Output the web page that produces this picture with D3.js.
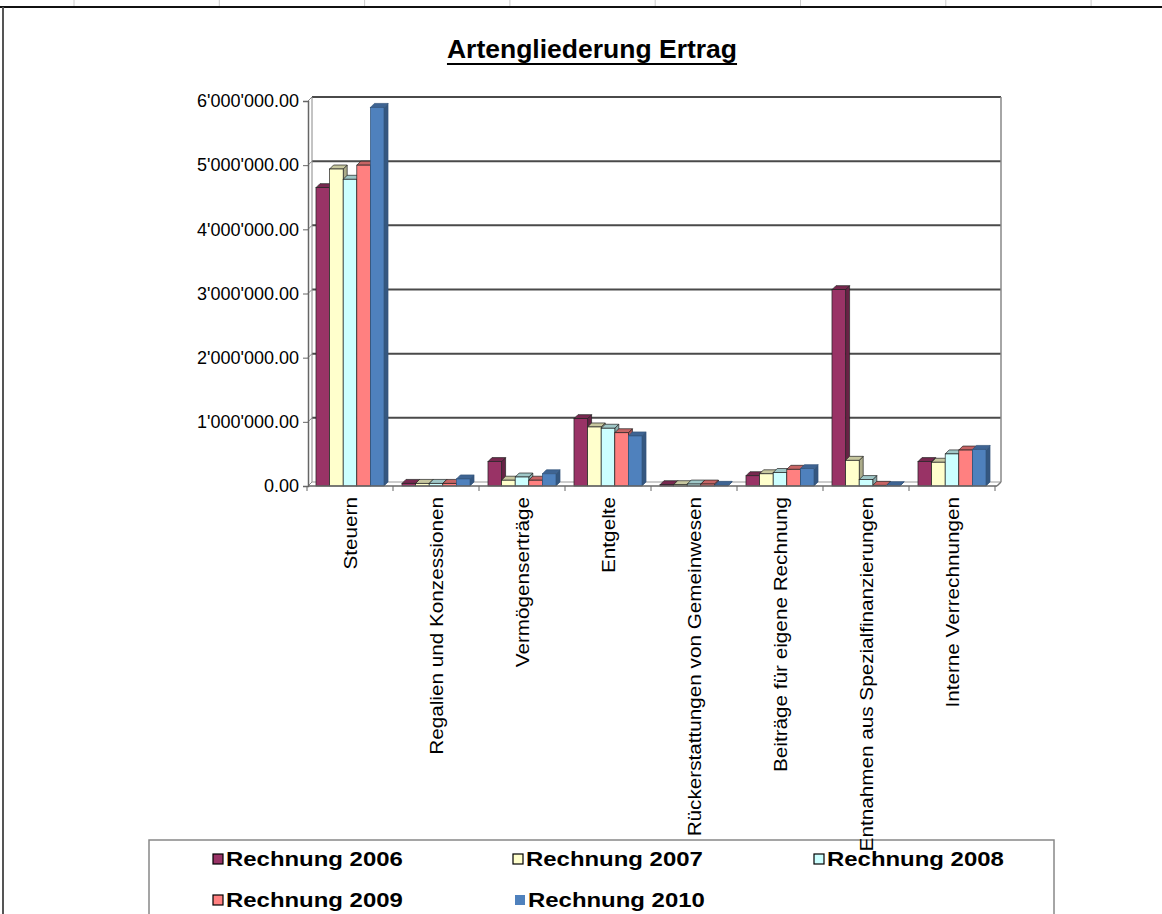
<!DOCTYPE html>
<html><head><meta charset="utf-8">
<script src="https://cdn.jsdelivr.net/npm/d3@7"></script>
<style>html,body{margin:0;padding:0;background:#fff;}svg{display:block;}</style>
</head><body>
<svg id="chart" width="1162" height="914"></svg>
<script>
const title = "Artengliederung Ertrag";
const categories = ["Steuern","Regalien und Konzessionen","Vermögenserträge","Entgelte","Rückerstattungen von Gemeinwesen","Beiträge für eigene Rechnung","Entnahmen aus Spezialfinanzierungen","Interne Verrechnungen"];
const seriesNames = ["Rechnung 2006","Rechnung 2007","Rechnung 2008","Rechnung 2009","Rechnung 2010"];
const seriesColors = ["#993366","#FFFFCC","#CCFFFF","#FF8080","#4F81BD"];
const r2006 = [4650000, 40000, 380000, 1050000, 20000, 160000, 3060000, 380000];
const r2007 = [4940000, 40000,  90000,  920000, 20000, 190000,  400000, 370000];
const r2008 = [4780000, 40000, 140000,  900000, 30000, 210000,  100000, 500000];
const r2009 = [5000000, 40000,  90000,  830000, 30000, 260000,   10000, 560000];
const r2010 = [5900000, 110000, 190000, 780000, 10000, 270000,    5000, 570000];
const seriesValues = [r2006, r2007, r2008, r2009, r2010];
const yTicks = [0,1000000,2000000,3000000,4000000,5000000,6000000];

const svg = d3.select("#chart");
const font = "'Liberation Sans', Arial, sans-serif";

// frame
const tickXs = d3.range(74, 1162, 145.3);
svg.selectAll("line.cell").data(tickXs).enter().append("line")
  .attr("x1", d => d).attr("x2", d => d).attr("y1", 0).attr("y2", 7)
  .attr("stroke", "#ccc").attr("stroke-width", 1);
svg.append("line").attr("x1", 0).attr("x2", 1162).attr("y1", 7).attr("y2", 7)
  .attr("stroke", "#111").attr("stroke-width", 2);
svg.append("line").attr("x1", 3).attr("x2", 3).attr("y1", 7).attr("y2", 914)
  .attr("stroke", "#555").attr("stroke-width", 2);

// title
const t = svg.append("text").attr("x", 592).attr("y", 58)
  .attr("text-anchor", "middle").attr("font-family", font)
  .attr("font-weight", "bold").attr("font-size", 26.5).attr("fill", "#000").text(title);
const tw = t.node().getComputedTextLength();
svg.append("line").attr("x1", 592 - tw/2).attr("x2", 592 + tw/2)
  .attr("y1", 64).attr("y2", 64).attr("stroke", "#000").attr("stroke-width", 2);

// scales
const y = d3.scaleLinear().domain([0, 6000000]).range([486, 101]);
const x0 = d3.scaleBand().domain(categories).range([307, 995]).paddingInner(0).paddingOuter(0);
const x1 = d3.scaleBand().domain(seriesNames).range([0, x0.bandwidth()]).paddingInner(0).paddingOuter(0.66);
const dx = 4, dy = 4;
const left = 308, right = 1001;

// back wall & grid
const g = svg.append("g");
g.selectAll("line.grid").data(yTicks.slice(1)).enter().append("line")
  .attr("x1", left + dx).attr("x2", right).attr("y1", d => y(d) - dy).attr("y2", d => y(d) - dy)
  .attr("stroke", "#4a4a4a").attr("stroke-width", 2);
g.append("line").attr("x1", left + dx).attr("x2", left + dx).attr("y1", y(6000000) - dy).attr("y2", y(0) - dy)
  .attr("stroke", "#888").attr("stroke-width", 1);
g.selectAll("line.lw").data(yTicks).enter().append("line")
  .attr("x1", left).attr("x2", left + dx).attr("y1", d => y(d)).attr("y2", d => y(d) - dy)
  .attr("stroke", "#888").attr("stroke-width", 1);
g.append("line").attr("x1", right).attr("x2", right).attr("y1", y(6000000) - dy).attr("y2", y(0) - dy)
  .attr("stroke", "#888").attr("stroke-width", 1.5);
g.append("line").attr("x1", left + dx).attr("x2", right).attr("y1", y(0) - dy).attr("y2", y(0) - dy)
  .attr("stroke", "#999").attr("stroke-width", 1);
g.append("line").attr("x1", right).attr("x2", right - dx).attr("y1", y(0) - dy).attr("y2", y(0))
  .attr("stroke", "#777").attr("stroke-width", 1.5);

// y axis
const yAxis = d3.axisLeft(y).tickValues(yTicks).tickSize(5).tickPadding(4)
  .tickFormat(d => d3.format(",.2f")(d).replace(/,/g, "'"));
const ya = svg.append("g").attr("transform", `translate(${left},0)`).call(yAxis);
ya.select(".domain").attr("stroke", "#666").attr("stroke-width", 1.5);
ya.selectAll(".tick line").attr("stroke", "#666");
ya.selectAll(".tick text").attr("font-family", font).attr("font-size", 18).attr("fill", "#000");

// bars
seriesNames.forEach((s, si) => {
  const col = d3.color(seriesColors[si]);
  const topC = col.darker(0.7).formatHex();
  const sideC = col.darker(1.1).formatHex();
  const strokeC = si === 4 ? col.darker(1.2).formatHex() : "#222";
  const bars = svg.append("g").selectAll("g").data(categories.map((c, ci) => ({c, v: seriesValues[si][ci]})))
    .enter().append("g");
  const w = x1.bandwidth();
  const bx = d => x0(d.c) + x1(s);
  bars.append("path").attr("d", d => {
      const x = bx(d), yt = y(d.v), yb = y(0);
      return `M${x+w},${yt}L${x+w+dx},${yt-dy}L${x+w+dx},${yb-dy}L${x+w},${yb}Z`;
    }).attr("fill", sideC).attr("stroke", strokeC).attr("stroke-width", 0.7);
  bars.append("path").attr("d", d => {
      const x = bx(d), yt = y(d.v);
      return `M${x},${yt}L${x+dx},${yt-dy}L${x+w+dx},${yt-dy}L${x+w},${yt}Z`;
    }).attr("fill", topC).attr("stroke", strokeC).attr("stroke-width", 0.7);
  bars.append("rect").attr("x", bx).attr("y", d => y(d.v)).attr("width", w)
    .attr("height", d => y(0) - y(d.v)).attr("fill", seriesColors[si])
    .attr("stroke", strokeC).attr("stroke-width", 0.7);
});

// x axis
const xa = svg.append("g").attr("transform", `translate(0,${y(0)})`);
xa.append("line").attr("x1", left).attr("x2", right - dx).attr("y1", 0).attr("y2", 0)
  .attr("stroke", "#666").attr("stroke-width", 1.5);
xa.selectAll("line.tk").data(categories.concat(["_end"])).enter().append("line")
  .attr("x1", (d, i) => x0.range()[0] + i * x0.step()).attr("x2", (d, i) => x0.range()[0] + i * x0.step())
  .attr("y1", 0).attr("y2", 5).attr("stroke", "#666");

// legend box
svg.append("rect").attr("x", 149).attr("y", 840).attr("width", 905).attr("height", 90)
  .attr("fill", "none").attr("stroke", "#888").attr("stroke-width", 1.5);
const legPos = [[213, 859], [513, 859], [814, 859], [213, 900], [515, 900]];
seriesNames.forEach((s, si) => {
  const [lx, ly] = legPos[si];
  svg.append("rect").attr("x", lx).attr("y", ly - 5).attr("width", 10).attr("height", 10)
    .attr("fill", seriesColors[si]).attr("stroke", si === 4 ? "none" : "#000").attr("stroke-width", 1.2);
  svg.append("text").attr("transform", `translate(${lx + 13},${ly}) scale(1.14,1)`).attr("dy", "0.35em")
    .attr("font-family", font).attr("font-weight", "bold").attr("font-size", 21).attr("fill", "#000").text(s);
});

// category labels
svg.append("g").selectAll("text").data(categories).enter().append("text")
  .attr("transform", d => `translate(${x0(d) + x0.bandwidth()/2},497) rotate(-90) scale(1.09,1)`)
  .attr("text-anchor", "end").attr("dy", "0.35em")
  .attr("font-family", font).attr("font-size", 19).attr("fill", "#000").text(d => d);
</script>
</body></html>
